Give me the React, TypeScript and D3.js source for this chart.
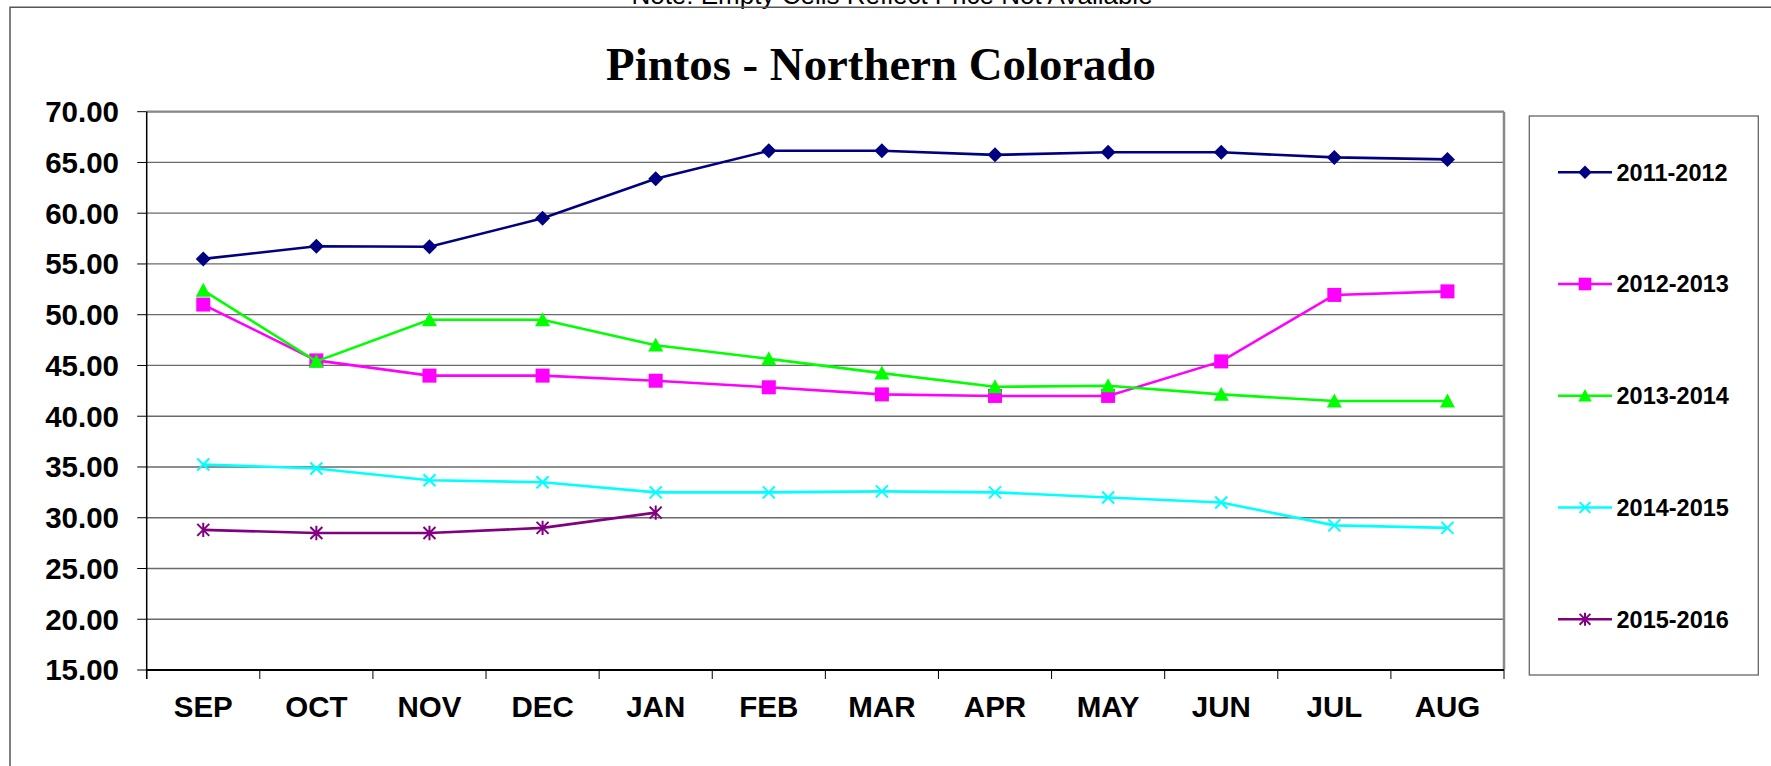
import React from "react";
import * as d3 from "d3";

const months = ["SEP", "OCT", "NOV", "DEC", "JAN", "FEB", "MAR", "APR", "MAY", "JUN", "JUL", "AUG"];
const yTicks = [15, 20, 25, 30, 35, 40, 45, 50, 55, 60, 65, 70];

const s2011: (number | null)[] = [55.5, 56.75, 56.7, 59.5, 63.4, 66.15, 66.15, 65.75, 66.0, 66.0, 65.5, 65.3];
const s2012: (number | null)[] = [51.0, 45.5, 44.0, 44.0, 43.5, 42.85, 42.15, 42.0, 42.0, 45.4, 51.95, 52.3];
const s2013: (number | null)[] = [52.4, 45.4, 49.5, 49.5, 47.0, 45.65, 44.25, 42.9, 43.0, 42.15, 41.5, 41.5];
const s2014: (number | null)[] = [35.25, 34.85, 33.7, 33.5, 32.5, 32.5, 32.6, 32.5, 32.0, 31.5, 29.25, 29.0];
const s2015: (number | null)[] = [28.8, 28.5, 28.5, 29.0, 30.5, null, null, null, null, null, null, null];

const seriesNames = ["2011-2012", "2012-2013", "2013-2014", "2014-2015", "2015-2016"];
const seriesValues = [s2011, s2012, s2013, s2014, s2015];
const seriesColors = ["#000080", "#FF00FF", "#00FF00", "#00FFFF", "#800080"];
const seriesMarkers = ["diamond", "square", "triangle", "x", "star"];

const W = 1771;
const H = 766;
const plot = { left: 146.7, right: 1504, top: 111.7, bottom: 670 };

function Marker({ kind, x, y, color, s = 1 }: { kind: string; x: number; y: number; color: string; s?: number }) {
  if (kind === "diamond") {
    const r = 7.5 * s;
    return <path d={`M${x},${y - r}L${x + r},${y}L${x},${y + r}L${x - r},${y}Z`} fill={color} />;
  }
  if (kind === "square") {
    const r = 7 * s;
    return <rect x={x - r} y={y - r} width={2 * r} height={2 * r} fill={color} />;
  }
  if (kind === "triangle") {
    const r = 7.5 * s;
    return <path d={`M${x},${y - r}L${x + r},${y + r * 0.85}L${x - r},${y + r * 0.85}Z`} fill={color} />;
  }
  if (kind === "x") {
    const r = 6 * s;
    return (
      <path d={`M${x - r},${y - r}L${x + r},${y + r}M${x - r},${y + r}L${x + r},${y - r}`} stroke={color} strokeWidth={2} fill="none" />
    );
  }
  const r = 6 * s;
  return (
    <path
      d={`M${x - r},${y - r}L${x + r},${y + r}M${x - r},${y + r}L${x + r},${y - r}M${x},${y - r * 1.2}L${x},${y + r * 1.2}`}
      stroke={color}
      strokeWidth={2}
      fill="none"
    />
  );
}

export default function App() {
  const x = d3.scaleBand<string>().domain(months).range([plot.left, plot.right]).padding(0);
  const y = d3.scaleLinear().domain([15, 70]).range([plot.bottom, plot.top]);
  const cx = (m: string) => (x(m) as number) + x.bandwidth() / 2;

  const line = d3
    .line<number | null>()
    .defined((d) => d !== null)
    .x((_, i) => cx(months[i]))
    .y((d) => y(d as number));

  const boundaries = months.map((m) => x(m) as number).concat([plot.right]);
  const legendYs = [172.3, 284, 395.8, 507.5, 619.3];

  return (
    <svg
      width={W}
      height={H}
      style={{ position: "absolute", left: 0, top: 0, background: "#fff" }}
      fontFamily="'Liberation Sans', Arial, sans-serif"
    >
      <rect x={0} y={0} width={W} height={H} fill="#fff" />
      {/* note (cut off at the top edge, as in the original) */}
      <text x={892} y={4} textAnchor="middle" fontSize={26} fill="#000">
        Note: Empty Cells Reflect Price Not Available
      </text>
      {/* outer frame */}
      <path d={`M10,${H + 5}L10,7.2L${W + 5},7.2`} stroke="#555" strokeWidth={1.5} fill="none" />
      {/* title */}
      <text
        x={881}
        y={80}
        textAnchor="middle"
        fontFamily="'Liberation Serif', 'Times New Roman', serif"
        fontWeight="bold"
        fontSize={46.8}
        fill="#000"
      >
        Pintos - Northern Colorado
      </text>

      {/* gridlines */}
      {yTicks.map((t) => (
        <line key={t} x1={plot.left} x2={plot.right} y1={y(t)} y2={y(t)} stroke="#6a6a6a" strokeWidth={1.3} />
      ))}
      {/* plot border top/right */}
      <line x1={plot.left} x2={plot.right} y1={plot.top} y2={plot.top} stroke="#888" strokeWidth={2.2} />
      <line x1={plot.right} x2={plot.right} y1={plot.top} y2={plot.bottom} stroke="#888" strokeWidth={2.5} />
      {/* axes */}
      <line x1={plot.left} x2={plot.left} y1={plot.top} y2={plot.bottom + 9} stroke="#000" strokeWidth={1.5} />
      <line x1={plot.left} x2={plot.right} y1={plot.bottom} y2={plot.bottom} stroke="#000" strokeWidth={1.8} />
      {yTicks.map((t) => (
        <line key={"yt" + t} x1={plot.left - 9.5} x2={plot.left} y1={y(t)} y2={y(t)} stroke="#000" strokeWidth={1} />
      ))}
      {boundaries.map((b, i) => (
        <line key={"xt" + i} x1={b} x2={b} y1={plot.bottom} y2={plot.bottom + 9} stroke="#000" strokeWidth={1} />
      ))}
      {/* y labels */}
      {yTicks.map((t) => (
        <text key={"yl" + t} x={119} y={y(t) + 10.3} textAnchor="end" fontSize={29.5} fontWeight="bold" fill="#000">
          {t.toFixed(2)}
        </text>
      ))}
      {/* x labels */}
      {months.map((m) => (
        <text key={"xl" + m} x={cx(m)} y={717} textAnchor="middle" fontSize={29.5} fontWeight="bold" fill="#000">
          {m}
        </text>
      ))}

      {/* series */}
      {seriesValues.map((vals, si) => (
        <g key={seriesNames[si]}>
          <path d={line(vals) || ""} fill="none" stroke={seriesColors[si]} strokeWidth={2.6} />
          {vals.map((v, i) =>
            v === null ? null : (
              <Marker key={i} kind={seriesMarkers[si]} x={cx(months[i])} y={y(v)} color={seriesColors[si]} />
            )
          )}
        </g>
      ))}

      {/* legend */}
      <rect x={1529.3} y={116} width={229} height={559} fill="#fff" stroke="#666" strokeWidth={1.3} />
      {seriesNames.map((n, i) => (
        <g key={"lg" + n}>
          <line x1={1558} x2={1612} y1={legendYs[i]} y2={legendYs[i]} stroke={seriesColors[i]} strokeWidth={2.6} />
          <Marker kind={seriesMarkers[i]} x={1585} y={legendYs[i]} color={seriesColors[i]} s={0.9} />
          <text x={1616.5} y={legendYs[i] + 8.3} fontSize={23.5} fontWeight="bold" fill="#000">
            {n}
          </text>
        </g>
      ))}
    </svg>
  );
}
